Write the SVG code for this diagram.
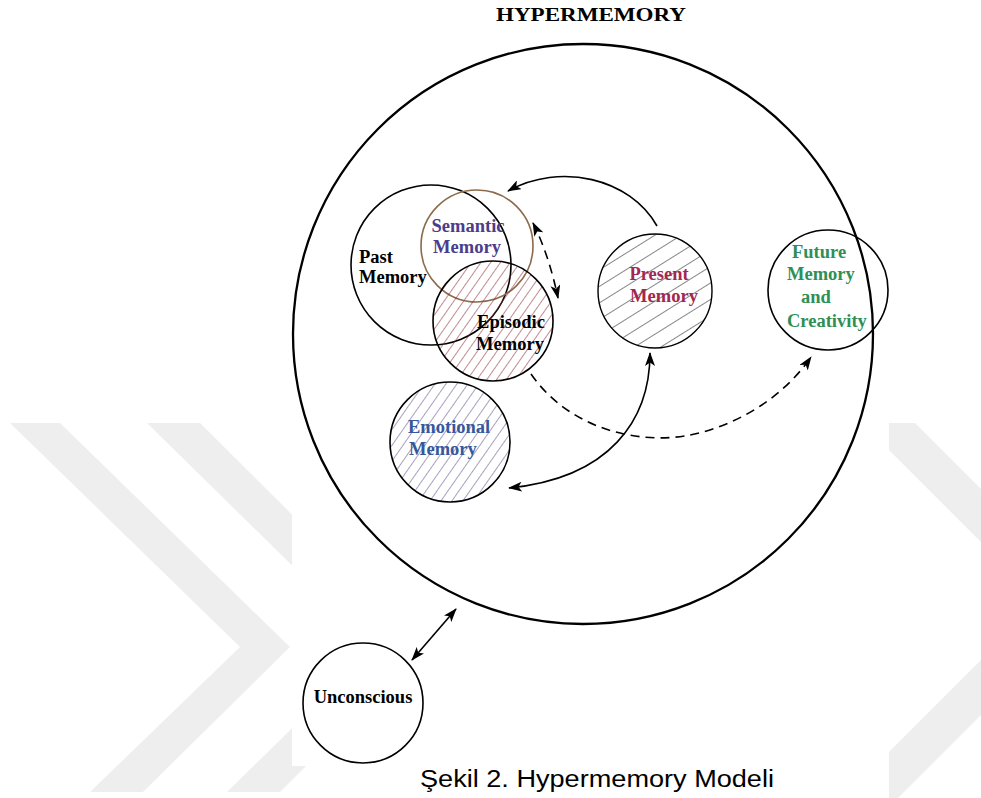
<svg xmlns="http://www.w3.org/2000/svg" width="981" height="798" viewBox="0 0 981 798">
  <style>
    .lbl { font-family: "Liberation Serif", "Times New Roman", serif; font-weight: bold; font-size: 18.5px; }
    .ring { fill: none; stroke: #000; stroke-width: 1.6; }
    .wire { fill: none; stroke: #000; stroke-width: 1.6; }
    .dash { stroke-dasharray: 9 6; }
    .wm { fill: #eeeeee; }
  </style>
  <defs>
    <marker id="arr" viewBox="0 0 14 10" refX="13" refY="5" markerWidth="14" markerHeight="10" markerUnits="userSpaceOnUse" orient="auto-start-reverse">
      <path d="M0,0 L14,5 L0,10 L3.5,5 Z" fill="#000"/>
    </marker>
    <pattern id="hatchRed" width="8" height="8" patternUnits="userSpaceOnUse" patternTransform="rotate(35)">
      <line x1="0" y1="-1" x2="0" y2="9" stroke="#8b2a35" stroke-width="1.1"/>
    </pattern>
    <pattern id="hatchPurple" width="9" height="9" patternUnits="userSpaceOnUse" patternTransform="rotate(35)">
      <line x1="0" y1="-1" x2="0" y2="10" stroke="#62508a" stroke-width="1.1"/>
    </pattern>
    <pattern id="hatchGrey" width="14" height="14" patternUnits="userSpaceOnUse" patternTransform="rotate(58)">
      <line x1="0" y1="-1" x2="0" y2="15" stroke="#222" stroke-width="1.1"/>
    </pattern>
  </defs>

  <!-- page background with light chevron marks -->
  <rect x="0" y="0" width="981" height="798" fill="#fff"/>
  <g id="page-marks">
    <polygon class="wm" points="10,423 60,423 290,647 143,792 90,792 240,647"/>
    <polygon class="wm" points="147,423 200,423 425,647 280,792 227,792 375,647"/>
    <polygon class="wm" points="862,423 915,423 1000,508 1000,561"/>
    <polygon class="wm" points="889,752 981,660 981,715 889,807"/>
  </g>

  <!-- figure panel -->
  <rect x="292" y="0" width="597" height="766" fill="#fff"/>

  <text x="496" y="21" class="lbl" font-size="20" textLength="190" lengthAdjust="spacingAndGlyphs">HYPERMEMORY</text>

  <g id="hypermemory">
    <circle cx="583" cy="334" r="290" fill="none" stroke="#000" stroke-width="2.3"/>
  </g>

  <g id="past-memory">
    <circle class="ring" cx="431" cy="265" r="80"/>
    <text class="lbl" x="359" y="263">Past</text>
    <text class="lbl" x="359" y="283">Memory</text>
  </g>

  <g id="semantic-memory">
    <circle cx="477" cy="246" r="56" fill="none" stroke="#8c6a4a" stroke-width="1.6"/>
    <text class="lbl" x="468" y="232" text-anchor="middle" fill="#4b3c8c">Semantic</text>
    <text class="lbl" x="467" y="253" text-anchor="middle" fill="#4b3c8c">Memory</text>
  </g>

  <g id="episodic-memory">
    <circle cx="493" cy="321" r="60" fill="url(#hatchRed)" stroke="#000" stroke-width="1.6"/>
    <text class="lbl" x="511" y="328" text-anchor="middle">Episodic</text>
    <text class="lbl" x="510" y="350" text-anchor="middle">Memory</text>
  </g>

  <g id="present-memory">
    <circle cx="655" cy="291" r="57" fill="url(#hatchGrey)" stroke="#000" stroke-width="1.4"/>
    <text class="lbl" x="659" y="280" text-anchor="middle" fill="#a3284f">Present</text>
    <text class="lbl" x="664" y="302" text-anchor="middle" fill="#a3284f">Memory</text>
  </g>

  <g id="future-memory">
    <circle class="ring" cx="828" cy="290" r="60"/>
    <text class="lbl" x="792" y="258" fill="#2f8f55">Future</text>
    <text class="lbl" x="787" y="280" fill="#2f8f55">Memory</text>
    <text class="lbl" x="801" y="303" fill="#2f8f55">and</text>
    <text class="lbl" x="787" y="327" fill="#2f8f55">Creativity</text>
  </g>

  <g id="emotional-memory">
    <circle cx="450" cy="442" r="60" fill="url(#hatchPurple)" stroke="#000" stroke-width="1.6"/>
    <text class="lbl" x="408" y="433" fill="#36589b">Emotional</text>
    <text class="lbl" x="409" y="455" fill="#36589b">Memory</text>
  </g>

  <g id="unconscious">
    <circle class="ring" cx="363" cy="703" r="60"/>
    <text class="lbl" x="363" y="703" text-anchor="middle">Unconscious</text>
  </g>

  <g id="connectors">
    <!-- present recalls semantic -->
    <path class="wire" d="M657,226 C630,178 560,162 508,191" marker-end="url(#arr)"/>
    <!-- semantic and episodic exchange -->
    <path class="wire dash" d="M533,223 Q549,255 558,298" stroke-dasharray="7 5" marker-start="url(#arr)" marker-end="url(#arr)"/>
    <!-- episodic towards future -->
    <path class="wire dash" d="M531,374 C570,430 640,445 690,435 C740,425 785,395 811,357" marker-end="url(#arr)"/>
    <!-- present and emotional -->
    <path class="wire" d="M650,353 C650,420 610,478 509,488" marker-start="url(#arr)" marker-end="url(#arr)"/>
    <!-- unconscious and hypermemory -->
    <path class="wire" d="M412,660 L456,609" marker-start="url(#arr)" marker-end="url(#arr)"/>
  </g>

  <text x="420" y="787" font-family="'Liberation Sans', Arial, sans-serif" font-size="23" textLength="354" lengthAdjust="spacingAndGlyphs" fill="#000">Şekil 2. Hypermemory Modeli</text>
</svg>
